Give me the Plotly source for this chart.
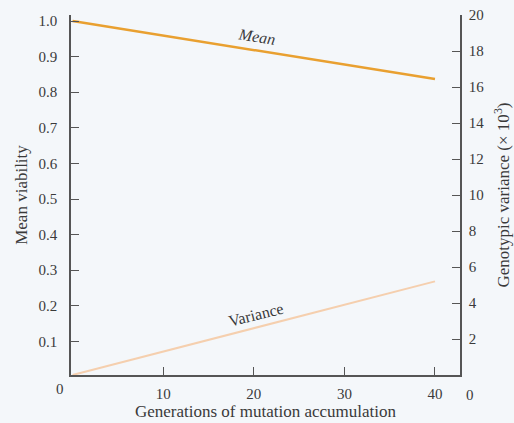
import plotly.graph_objects as go

generations = [0, 40]
mean_viability = [1.0, 0.837]
genotypic_variance = [0, 5.2]  # x 10^-3

left_ticks = [0.1, 0.2, 0.3, 0.4, 0.5, 0.6, 0.7, 0.8, 0.9, 1.0]
left_labels = ["0.1", "0.2", "0.3", "0.4", "0.5", "0.6", "0.7", "0.8", "0.9", "1.0"]
right_ticks = [2, 4, 6, 8, 10, 12, 14, 16, 18, 20]
x_ticks = [10, 20, 30, 40]

FONT = "Liberation Serif"
AXC = "#555555"
TXT = "#3a3a3a"

fig = go.Figure()
fig.add_trace(go.Scatter(x=generations, y=mean_viability, mode="lines",
                         line=dict(color="#E9A030", width=2.5), yaxis="y",
                         showlegend=False, hoverinfo="skip"))
fig.add_trace(go.Scatter(x=generations, y=genotypic_variance, mode="lines",
                         line=dict(color="#F5CFAE", width=2), yaxis="y2",
                         showlegend=False, hoverinfo="skip"))

fig.update_layout(
    width=514, height=423,
    margin=dict(l=71, r=54, t=15, b=48),
    paper_bgcolor="#F4F7FA", plot_bgcolor="#F4F7FA",
    font=dict(family=FONT, size=15, color=TXT),
    xaxis=dict(range=[-0.17, 42.76], tickvals=x_ticks, ticks="inside", ticklen=8,
               tickcolor=AXC, showline=True, linecolor=AXC, linewidth=1.5,
               showgrid=False, zeroline=False, ticklabelstandoff=4, automargin=False,
               title=dict(text="Generations of mutation accumulation",
                          font=dict(size=17), standoff=2)),
    yaxis=dict(range=[0.0056, 1.017], tickvals=left_ticks, ticktext=left_labels,
               ticks="inside", ticklen=8, tickcolor=AXC, showline=True,
               linecolor=AXC, linewidth=1.5, showgrid=False, zeroline=False,
               ticklabelstandoff=9, automargin=False,
               title=dict(text="Mean viability", font=dict(size=17), standoff=7)),
    yaxis2=dict(range=[0, 20], tickvals=right_ticks, overlaying="y", side="right",
                ticks="inside", ticklen=8, tickcolor=AXC, showline=True,
                linecolor=AXC, linewidth=1.5, showgrid=False, zeroline=False,
                ticklabelstandoff=4, automargin=False,
                title=dict(text="Genotypic variance (× 10<sup>3</sup>)",
                           font=dict(size=17), standoff=14)),
)

fig.add_annotation(x=0, y=0, xref="paper", yref="paper", text="0", showarrow=False,
                   xanchor="center", yanchor="middle", xshift=-11, yshift=-14)
fig.add_annotation(x=1, y=0, xref="paper", yref="paper", text="0", showarrow=False,
                   xanchor="center", yanchor="middle", xshift=10, yshift=-20)
fig.add_annotation(x=20.3, y=0.957, text="<i>Mean</i>", showarrow=False, textangle=9,
                   font=dict(size=16))
fig.add_annotation(x=20.3, y=3.35, yref="y2", text="Variance", showarrow=False,
                   textangle=-14, font=dict(size=16))

fig.write_html("out.html")
